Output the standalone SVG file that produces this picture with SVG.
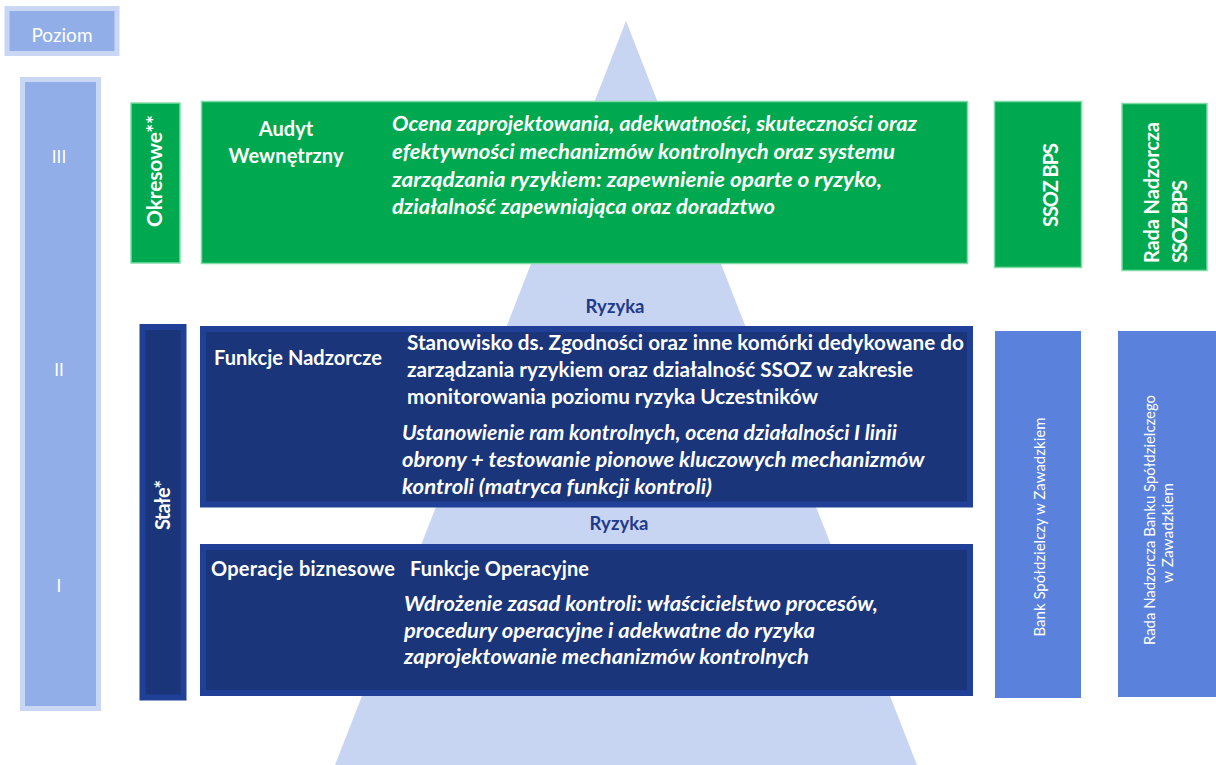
<svg xmlns="http://www.w3.org/2000/svg" width="1216" height="765" viewBox="0 0 1216 765">
<style>
.t{font-family:Lato,"Liberation Sans",sans-serif;fill:#fff}
.b{font-weight:700}
.i{font-style:italic;font-weight:700}
.lvl{fill:#92aee8;stroke:#c9d6f4;stroke-width:5}
.grn{fill:#00a94f;stroke:#7fdca6;stroke-width:1.5}
.dk{fill:#1a357a;stroke:#1f4096;stroke-width:6}
.side{fill:#5a82dc}
.ry{font-family:Lato,"Liberation Sans",sans-serif;font-weight:700;fill:#1f3a8a;font-size:18.5px}
</style>
<rect width="1216" height="765" fill="#fff"/>
<polygon id="pyramid" points="626,21 335,765 917,765" fill="#c7d5f3"/>

<g id="poziom">
<rect class="lvl" x="7" y="8.5" width="110" height="45" stroke-width="6"/>
<text class="t" x="62" y="42" font-size="19" text-anchor="middle">Poziom</text>
</g>

<g id="levels">
<rect class="lvl" x="22.5" y="79.5" width="76" height="629"/>
<text class="t" x="59" y="163" font-size="17" text-anchor="middle">III</text>
<text class="t" x="59" y="376" font-size="17" text-anchor="middle">II</text>
<text class="t" x="59" y="592" font-size="17" text-anchor="middle">I</text>
</g>

<g id="okresowe">
<rect class="grn" x="131" y="103" width="49" height="160"/>
<text class="t b" transform="translate(162,171) rotate(-90)" font-size="21" text-anchor="middle" textLength="112">Okresowe**</text>
</g>

<g id="audyt">
<rect class="grn" x="201.5" y="101.5" width="766" height="162"/>
<text class="t b" x="286" y="136" font-size="20" text-anchor="middle">Audyt</text>
<text class="t b" x="286" y="163" font-size="20" text-anchor="middle" textLength="115">Wewnętrzny</text>
<text class="t i" font-size="20">
<tspan x="392" y="131" textLength="525" lengthAdjust="spacingAndGlyphs">Ocena zaprojektowania, adekwatności, skuteczności oraz</tspan>
<tspan x="392" y="159" textLength="503" lengthAdjust="spacingAndGlyphs">efektywności mechanizmów  kontrolnych oraz systemu</tspan>
<tspan x="392" y="187" textLength="490" lengthAdjust="spacingAndGlyphs">zarządzania ryzykiem: zapewnienie oparte o ryzyko,</tspan>
<tspan x="392" y="214" textLength="383" lengthAdjust="spacingAndGlyphs">działalność zapewniająca oraz doradztwo</tspan>
</text>
</g>

<g id="ssoz">
<rect class="grn" x="994.5" y="101.5" width="87" height="166"/>
<text class="t b" transform="translate(1058,185) rotate(-90)" font-size="20" text-anchor="middle" textLength="84">SSOZ BPS</text>
</g>

<g id="rada-ssoz">
<rect class="grn" x="1122" y="103.5" width="85" height="167"/>
<text class="t b" transform="translate(1159,263) rotate(-90)" font-size="20" textLength="141">Rada Nadzorcza</text>
<text class="t b" transform="translate(1187,263) rotate(-90)" font-size="20" textLength="83">SSOZ BPS</text>
</g>

<text class="ry" x="615" y="313" text-anchor="middle">Ryzyka</text>
<text class="ry" x="619" y="530" text-anchor="middle">Ryzyka</text>

<g id="stale">
<rect class="dk" x="142.5" y="327" width="41" height="370.5"/>
<text class="t b" transform="translate(170,505) rotate(-90)" font-size="20" text-anchor="middle" textLength="50">Stałe*</text>
</g>

<g id="nadzorcze">
<rect class="dk" x="203" y="329" width="767" height="175.5"/>
<text class="t b" x="214" y="365" font-size="20" textLength="168">Funkcje Nadzorcze</text>
<text class="t b" font-size="20">
<tspan x="407" y="350" textLength="557" lengthAdjust="spacingAndGlyphs">Stanowisko ds. Zgodności oraz inne komórki dedykowane do</tspan>
<tspan x="407" y="377" textLength="506" lengthAdjust="spacingAndGlyphs">zarządzania ryzykiem oraz działalność SSOZ w zakresie</tspan>
<tspan x="407" y="404" textLength="411" lengthAdjust="spacingAndGlyphs">monitorowania poziomu ryzyka Uczestników</tspan>
</text>
<text class="t i" font-size="20">
<tspan x="402" y="440" textLength="495" lengthAdjust="spacingAndGlyphs">Ustanowienie ram kontrolnych, ocena działalności I linii</tspan>
<tspan x="402" y="467" textLength="522" lengthAdjust="spacingAndGlyphs">obrony + testowanie pionowe kluczowych mechanizmów</tspan>
<tspan x="402" y="494" textLength="310" lengthAdjust="spacingAndGlyphs">kontroli (matryca funkcji kontroli)</tspan>
</text>
</g>

<g id="operacje">
<rect class="dk" x="203" y="547" width="767" height="146"/>
<text class="t b" x="211" y="576" font-size="20" textLength="184">Operacje biznesowe</text>
<text class="t b" x="410" y="576" font-size="20" textLength="179">Funkcje Operacyjne</text>
<text class="t i" font-size="20">
<tspan x="404" y="611" textLength="474" lengthAdjust="spacingAndGlyphs">Wdrożenie zasad kontroli: właścicielstwo procesów,</tspan>
<tspan x="404" y="638" textLength="411" lengthAdjust="spacingAndGlyphs">procedury operacyjne i adekwatne do ryzyka</tspan>
<tspan x="404" y="664" textLength="405" lengthAdjust="spacingAndGlyphs">zaprojektowanie mechanizmów kontrolnych</tspan>
</text>
</g>

<g id="bank">
<rect class="side" x="995" y="331" width="86" height="367"/>
<text class="t" transform="translate(1045,527) rotate(-90)" font-size="14.5" text-anchor="middle" textLength="219" lengthAdjust="spacingAndGlyphs">Bank Spółdzielczy w Zawadzkiem</text>
</g>

<g id="rada-banku">
<rect class="side" x="1118" y="331" width="98" height="366"/>
<text class="t" transform="translate(1155,520) rotate(-90)" font-size="14.5" text-anchor="middle" textLength="250" lengthAdjust="spacingAndGlyphs">Rada Nadzorcza Banku Spółdzielczego</text>
<text class="t" transform="translate(1173,533) rotate(-90)" font-size="14.5" text-anchor="middle" textLength="100" lengthAdjust="spacingAndGlyphs">w Zawadzkiem</text>
</g>

<g id="connectors"></g>
</svg>
